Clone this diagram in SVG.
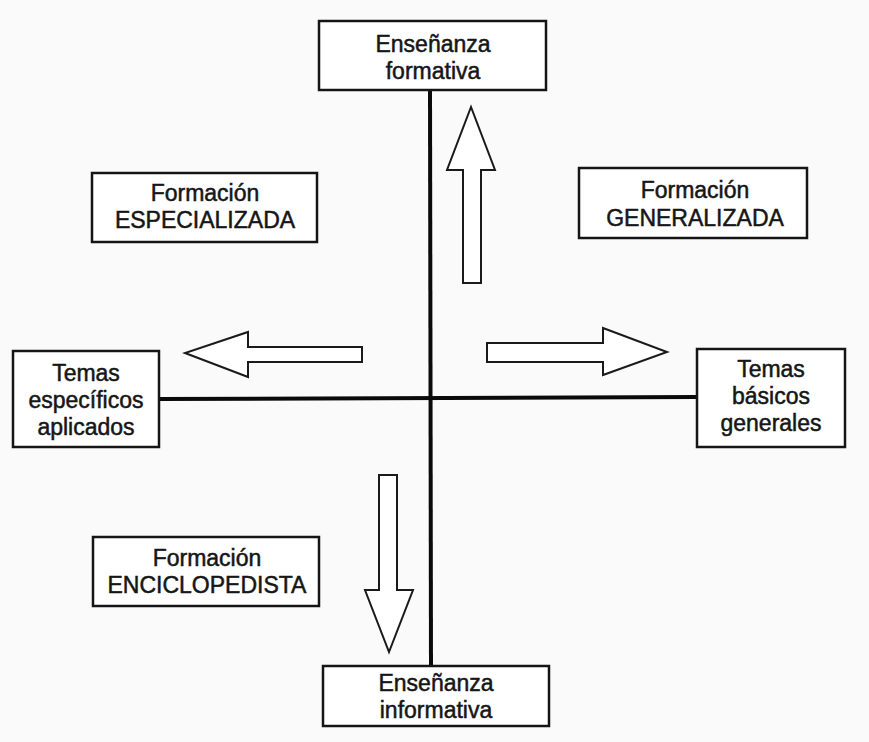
<svg xmlns="http://www.w3.org/2000/svg" width="869" height="742" viewBox="0 0 869 742">
<style>
.box{fill:#ffffff;stroke:#151515;stroke-width:2.5}
.axis{stroke:#0a0a0a;stroke-width:4;fill:none}
.arrow{fill:#ffffff;stroke:#1a1a1a;stroke-width:2;stroke-linejoin:miter}
text{font-family:"Liberation Sans",Arial,Helvetica,sans-serif;font-size:23px;fill:#161616;stroke:#161616;stroke-width:0.5;text-anchor:middle}
</style>
<rect x="0" y="0" width="869" height="742" fill="#fafafa"/>
<g id="connectors">
<line class="axis" x1="430" y1="90" x2="431" y2="666"/>
<line class="axis" x1="159" y1="399" x2="697" y2="397"/>
<path id="arrow-up" class="arrow" d="M463,283 L463,170 L447,170 L471,107 L495,170 L481,170 L481,283 Z"/>
<path id="arrow-left" class="arrow" d="M362,347 L248,347 L248,332 L185,353 L248,377 L248,362 L362,362 Z"/>
<path id="arrow-right" class="arrow" d="M487,343 L603,343 L603,328 L667,352 L603,375 L603,362 L487,362 Z"/>
<path id="arrow-down" class="arrow" d="M379,475 L397,475 L397,590 L413,590 L389,652 L365,590 L379,590 Z"/>
</g>
<g id="node-formativa">
<rect class="box" x="319" y="21" width="227" height="69"/>
<text x="433" y="52">Enseñanza</text>
<text x="433" y="79">formativa</text>
</g>
<g id="node-especializada">
<rect class="box" x="92" y="173" width="225" height="69"/>
<text x="205" y="201">Formación</text>
<text x="205" y="228">ESPECIALIZADA</text>
</g>
<g id="node-generalizada">
<rect class="box" x="579" y="168" width="228" height="70"/>
<text x="695" y="198">Formación</text>
<text x="695" y="226">GENERALIZADA</text>
</g>
<g id="node-especificos">
<rect class="box" x="13" y="351" width="146" height="96"/>
<text x="86" y="381">Temas</text>
<text x="86" y="408">específicos</text>
<text x="86" y="435">aplicados</text>
</g>
<g id="node-basicos">
<rect class="box" x="697" y="349" width="148" height="98"/>
<text x="771" y="377">Temas</text>
<text x="771" y="404">básicos</text>
<text x="771" y="431">generales</text>
</g>
<g id="node-enciclopedista">
<rect class="box" x="93" y="537" width="226" height="69"/>
<text x="207" y="566">Formación</text>
<text x="207" y="593">ENCICLOPEDISTA</text>
</g>
<g id="node-informativa">
<rect class="box" x="323" y="666" width="226" height="60"/>
<text x="436" y="691">Enseñanza</text>
<text x="436" y="718">informativa</text>
</g>
</svg>
